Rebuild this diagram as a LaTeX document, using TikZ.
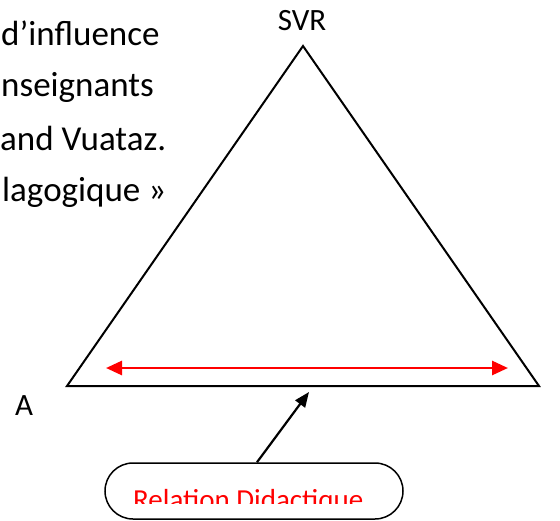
\documentclass[tikz,border=0pt]{standalone}
\usepackage{fontspec}
\setmainfont{Carlito}
\usetikzlibrary{arrows.meta}

\tikzset{
    bodytext/.style={inner sep=0pt, anchor=base west, font=\fontsize{35}{41}\selectfont},
    vertexlabel/.style={inner sep=0pt, anchor=base, font=\fontsize{31}{37}\selectfont},
    reltext/.style={inner sep=0pt, anchor=base west, text=red, font=\fontsize{29}{35}\selectfont},
    pill/.style={draw, line width=1.5pt, rounded corners=28pt, minimum width=298pt, minimum height=56pt},
    relarrow/.style={red, line width=2.8pt, {Triangle[length=16pt,width=14pt]}-{Triangle[length=16pt,width=14pt]}},
    ptarrow/.style={line width=2.2pt, -{Triangle[length=15pt,width=12pt]}}
}

\begin{document}
\begin{tikzpicture}[x=1pt, y=-1pt]
    \useasboundingbox (0,0) rectangle (560,520);

    \node[bodytext] (line1) at (1,45) {d’influence};
    \node[bodytext] (line2) at (1,96) {nseignants};
    \node[bodytext] (line3) at (0,150) {and Vuataz.};
    \node[bodytext] (line4) at (2,201) {lagogique »};

    \coordinate (svr) at (303,46);
    \coordinate (a) at (67,386);
    \coordinate (b) at (539,386);
    \draw[line width=2pt] (svr) -- (b) -- (a) -- cycle;

    \node[vertexlabel] (svrlabel) at (302,30) {SVR};
    \node[vertexlabel] (alabel) at (24,415) {A};

    \coordinate (relleft) at (106,368);
    \coordinate (relright) at (508,368);
    \draw[relarrow] (relleft) -- (relright);

    \node[pill] (relation) at (254,491) {};
    \begin{scope}
        \clip (105,463) rectangle (403,503);
        \node[reltext] (relationtext) at (133,509) {Relation Didactique};
    \end{scope}

    \coordinate (tip) at (309,392);
    \draw[ptarrow] ([xshift=3pt]relation.north) -- (tip);
\end{tikzpicture}
\end{document}
